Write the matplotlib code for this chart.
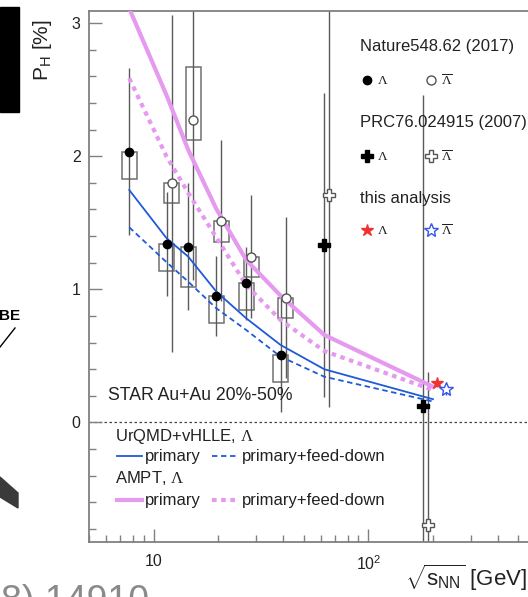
import numpy as np
import matplotlib.pyplot as plt
from matplotlib.patches import Rectangle, Polygon
from matplotlib.lines import Line2D

plt.rcParams['font.family'] = ['Liberation Sans', 'DejaVu Sans']
plt.rcParams['mathtext.fontset'] = 'custom'
plt.rcParams['mathtext.rm'] = 'Liberation Serif'
plt.rcParams['mathtext.it'] = 'Liberation Sans:italic'
plt.rcParams['mathtext.sf'] = 'Liberation Sans'

# STAR BES, Nature 548, 62 (2017)
sNN_nat = [7.7, 11.5, 14.5, 19.6, 27.0, 39.0]
pLam_nat = [2.034, 1.340, 1.320, 0.950, 1.045, 0.509]
statLam_nat = [0.627, 0.393, 0.476, 0.300, 0.276, 0.428]
sysLam_lo = [0.205, 0.200, 0.300, 0.200, 0.200, 0.203]
sysLam_hi = [0.0, 0.0, 0.0, 0.0, 0.0, 0.0]

sNN_nat_bar = [11.5, 14.5, 19.6, 27.0, 39.0]
pAnti_nat = [1.796, 2.272, 1.515, 1.245, 0.937]
statAnti_nat = [1.265, 1.200, 0.606, 0.464, 0.606]
sysAnti_lo = [0.150, 0.150, 0.158, 0.155, 0.155]
sysAnti_hi = [0.0, 0.400, 0.0, 0.0, 0.0]

# PRC 76, 024915 (2007), points spread a bit around 62.4 and 200 GeV
sNN_prc = [62.0, 180.0]
pLam_prc = [1.333, 0.123]
statLam_prc = [1.14, 2.34]
sNN_prc_bar = [65.5, 190.0]
pAnti_prc = [1.709, -0.771]
statAnti_prc = [1.59, 1.152]

# this analysis (200 GeV)
sNN_this = [208.0]
pLam_this = [0.294]
statLam_this = [0.03]
sNN_this_bar = [230.0]
pAnti_this = [0.249]
statAnti_this = [0.04]

# model curves
sNN_model = [7.7, 11.5, 14.5, 19.6, 27.0, 39.0, 62.4, 200.0]
urqmd_prim = [1.746, 1.383, 1.245, 0.982, 0.782, 0.582, 0.399, 0.174]
urqmd_fd = [1.466, 1.203, 1.057, 0.857, 0.694, 0.494, 0.343, 0.157]
ampt_prim = [3.11, 2.456, 2.047, 1.603, 1.220, 0.953, 0.657, 0.268]
ampt_fd = [2.585, 1.996, 1.724, 1.389, 1.032, 0.769, 0.536, 0.243]

W, H = 528, 597
fig = plt.figure(figsize=(W / 100, H / 100), dpi=100)

def fx(px):
    return px / W

def fy(py):
    return 1 - py / H

ax = fig.add_axes([fx(89), fy(542), (583 - 89) / W, (542 - 10.5) / H])
ax.set_xscale('log')
ax.set_xlim(5, 1000)
ax.set_ylim(-0.899, 3.095)

blue = '#1f5ad8'
violet = '#e69aef'
grey = '#5a5a5a'
shift = 1.055  # anti-lambda drawn a little to the right

# systematic boxes
bw = 1.084
for x, y, lo, hi in zip(sNN_nat, pLam_nat, sysLam_lo, sysLam_hi):
    ax.add_patch(Rectangle((x / bw, y - lo), x * bw - x / bw, lo + hi,
                           fill=False, ec='#707070', lw=1.1, zorder=2))
for x, y, lo, hi in zip(sNN_nat_bar, pAnti_nat, sysAnti_lo, sysAnti_hi):
    xs = x * shift
    ax.add_patch(Rectangle((xs / bw, y - lo), xs * bw - xs / bw, lo + hi,
                           fill=False, ec='#707070', lw=1.1, zorder=2))

# statistical errors
xa = np.array(sNN_nat_bar) * shift
ax.vlines(sNN_nat, np.subtract(pLam_nat, statLam_nat), np.add(pLam_nat, statLam_nat), color=grey, lw=1, zorder=2)
ax.vlines(xa, np.subtract(pAnti_nat, statAnti_nat), np.add(pAnti_nat, statAnti_nat), color=grey, lw=1, zorder=2)
ax.vlines(sNN_prc, np.subtract(pLam_prc, statLam_prc), np.add(pLam_prc, statLam_prc), color=grey, lw=1, zorder=2)
ax.vlines(sNN_prc_bar, np.subtract(pAnti_prc, statAnti_prc), np.add(pAnti_prc, statAnti_prc), color=grey, lw=1, zorder=2)
ax.vlines(sNN_this, np.subtract(pLam_this, statLam_this), np.add(pLam_this, statLam_this), color='#e33', lw=1, zorder=2)
ax.vlines(sNN_this_bar, np.subtract(pAnti_this, statAnti_this), np.add(pAnti_this, statAnti_this), color='#35e', lw=1, zorder=2)

# models
ax.plot(sNN_model, ampt_prim, color=violet, lw=3, zorder=3)
ax.plot(sNN_model, ampt_fd, color=violet, lw=3, ls=(0, (1.1, 1.1)), zorder=3)
ax.plot(sNN_model, urqmd_prim, color=blue, lw=1.3, zorder=3)
ax.plot(sNN_model, urqmd_fd, color=blue, lw=1.3, ls=(0, (3, 2)), zorder=3)

# data markers
ax.plot(sNN_nat, pLam_nat, 'o', color='black', ms=6, zorder=5)
ax.plot(xa, pAnti_nat, 'o', mfc='white', mec='#555', mew=1, ms=6.5, zorder=5)
ax.plot(sNN_prc, pLam_prc, 'P', color='black', ms=8, zorder=5)
ax.plot(sNN_prc_bar, pAnti_prc, 'P', mfc='white', mec='#555', mew=1, ms=9, zorder=5)
ax.plot(sNN_this, pLam_this, '*', color='#ee3333', ms=9, zorder=5)
ax.plot(sNN_this_bar, pAnti_this, '*', mfc='white', mec='#3355ee', mew=1, ms=10, zorder=5)

ax.axhline(0, color='#444', lw=0.9, ls=(0, (2, 2)), zorder=1)

# axes styling
for s in ax.spines.values():
    s.set_color('#808080')
    s.set_linewidth(1.3)
ax.set_yticks([0, 1, 2, 3])
ax.set_yticks(np.arange(-0.8, 3.01, 0.2), minor=True)
ax.set_xticks([10, 100])
ax.set_xticklabels(['10', r'$\mathdefault{10^{2}}$'])
ax.tick_params(which='both', direction='in', color='#808080', width=1,
               top=False, right=False, labelsize=11.5, labelcolor='#222')
ax.tick_params(which='major', length=9.5, pad=6)
ax.tick_params(which='minor', length=4.8)
ax.tick_params(axis='x', pad=9)

fig.text(fx(527), fy(578), r'$\sqrt{\mathsf{s}_{\mathsf{NN}}}$ [GeV]', ha='right', va='center',
         fontsize=16, color='#222')
fig.text(fx(43), fy(50), r'P$_{\mathsf{H}}$ [%]', rotation=90, ha='center', va='center',
         fontsize=15, color='#222')

# legend for the data
tc = '#222'
fig.text(fx(360), fy(47), 'Nature548.62 (2017)', fontsize=12, va='center', color=tc)
fig.text(fx(360), fy(123), 'PRC76.024915 (2007)', fontsize=12, va='center', color=tc)
fig.text(fx(360), fy(199), 'this analysis', fontsize=12, va='center', color=tc)
rows = [(80, dict(marker='o', color='black', ms=6), dict(marker='o', mfc='white', mec='#555', ms=6.5)),
        (156, dict(marker='P', color='black', ms=8), dict(marker='P', mfc='white', mec='#555', ms=9)),
        (230, dict(marker='*', color='#ee3333', ms=9), dict(marker='*', mfc='white', mec='#3355ee', ms=10))]
for py, m1, m2 in rows:
    fig.add_artist(Line2D([fx(367)], [fy(py)], ls='none', **m1))
    fig.add_artist(Line2D([fx(431)], [fy(py)], ls='none', **m2))
    fig.text(fx(377), fy(py + 1), r'$\Lambda$', fontsize=9.5, va='center', color=tc)
    fig.text(fx(441), fy(py + 1), r'$\overline{\Lambda}$', fontsize=9.5, va='center', color=tc)

# legend for the models
fig.text(fx(108), fy(396), 'STAR Au+Au 20%-50%', fontsize=12.7, va='center', color=tc)
fig.text(fx(115), fy(436), r'UrQMD+vHLLE, $\Lambda$', fontsize=12, va='center', color=tc)
fig.text(fx(115), fy(478), r'AMPT, $\Lambda$', fontsize=12, va='center', color=tc)
for py, col, lw, ls1, ls2 in [(456, blue, 1.3, '-', (0, (3, 2))),
                              (500, violet, 3, '-', (0, (1.1, 1.1)))]:
    fig.add_artist(Line2D([fx(117), fx(142)], [fy(py), fy(py)], color=col, lw=lw, ls=ls1))
    fig.add_artist(Line2D([fx(212), fx(237)], [fy(py), fy(py)], color=col, lw=lw, ls=ls2))
    fig.text(fx(145), fy(py), 'primary', fontsize=12, va='center', color=tc)
    fig.text(fx(242), fy(py), 'primary+feed-down', fontsize=12, va='center', color=tc)

# bits of the slide around the plot
fig.add_artist(Rectangle((0, fy(112)), fx(19), 105 / H, transform=fig.transFigure, color='black'))
fig.text(fx(-1), fy(316), 'BE', fontsize=11, fontweight='bold', va='center', color='black')
fig.add_artist(Line2D([fx(15), fx(0)], [fy(328), fy(347)], color='black', lw=1))
fig.add_artist(Polygon([(fx(0), fy(477)), (fx(18), fy(493)), (fx(18), fy(508)), (fx(0), fy(497))],
                       closed=True, transform=fig.transFigure, color='#3a3a3a'))
fig.text(fx(1), fy(612), '8) 14910', fontsize=27, color='#8a8a8a', va='baseline')

fig.savefig('out.png', dpi=100)
